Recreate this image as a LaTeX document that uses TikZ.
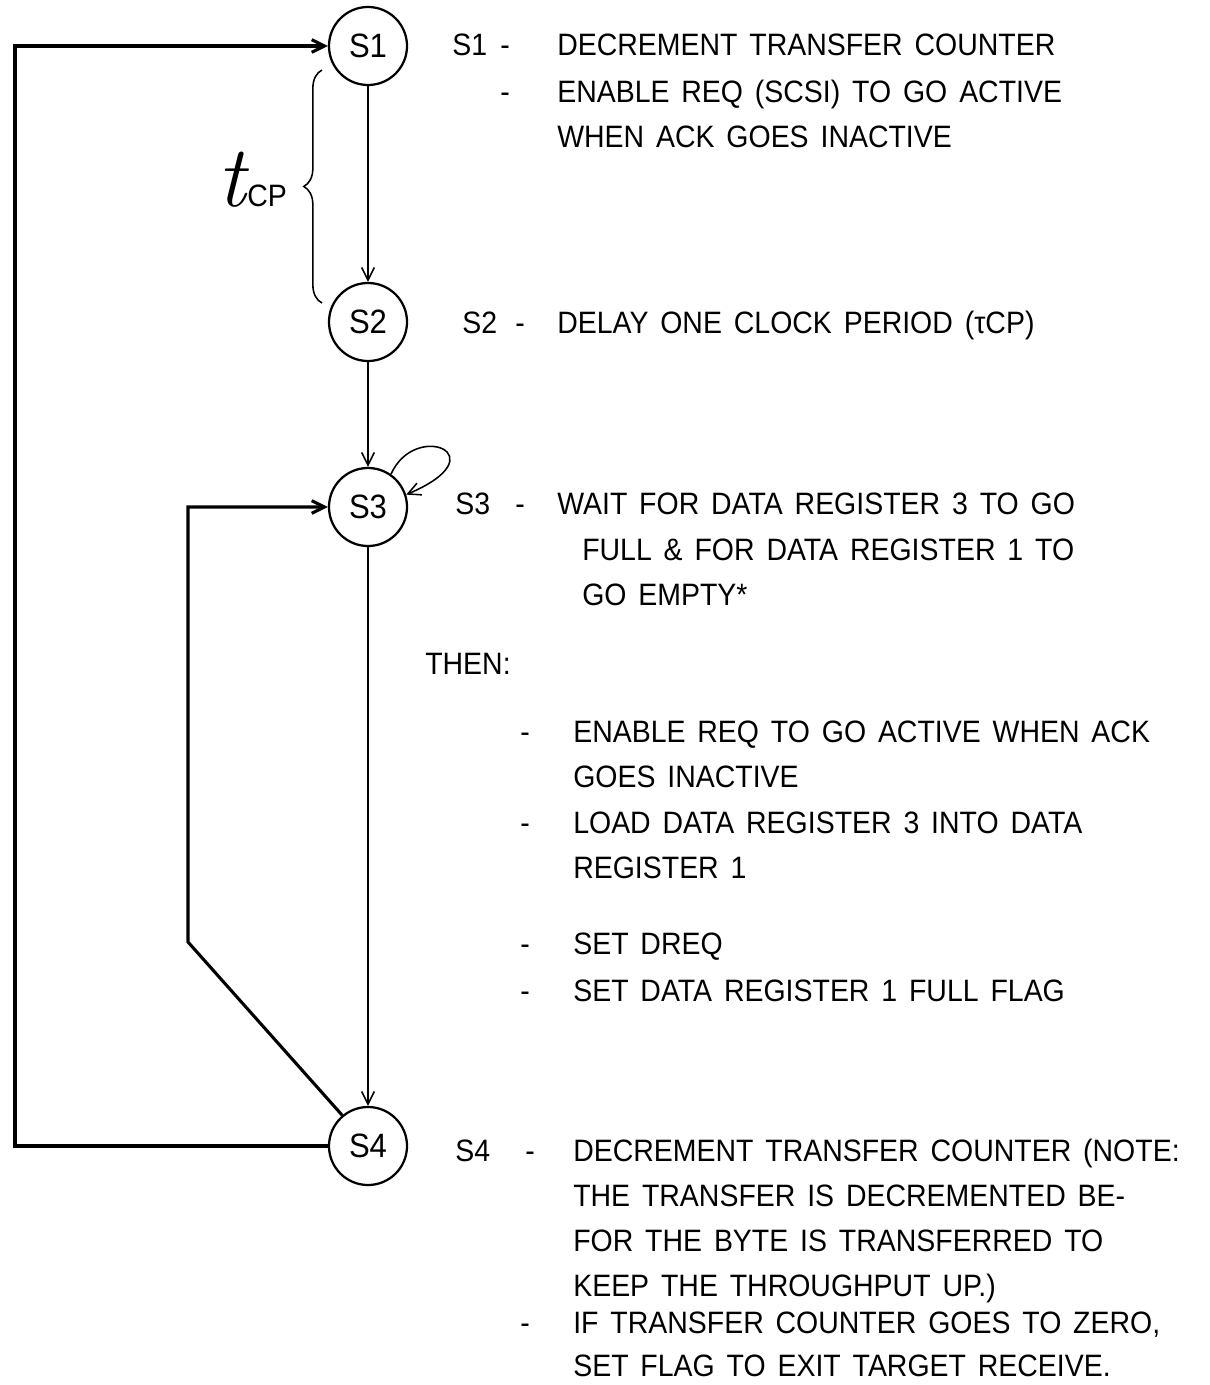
\documentclass[tikz,border=0pt]{standalone}
\usepackage{fontspec}
\usepackage{tikz}
\usetikzlibrary{arrows.meta,positioning,calc,decorations.pathreplacing}
\newfontfamily\plotter{Liberation Sans}[FakeStretch=0.92,WordSpace=1.5]

\begin{document}
\begin{tikzpicture}[
  x=0.025cm, y=0.025cm,
  >={Straight Barb[length=9pt,width=9pt]},
  st/.style={circle, draw, line width=1.6pt, minimum size=1.95cm, inner sep=0pt,
    font=\plotter\fontsize{24}{24}\selectfont},
  fine/.style={line width=1.1pt},
  heavy/.style={line width=2.2pt},
  txt/.style={anchor=base west, inner sep=0pt, font=\plotter\fontsize{22}{24}\selectfont}]
  \useasboundingbox (0,0) rectangle (1209,-1385);
  % states
  \node[st] (s1) at (368,-46) {S1};
  \node[st] (s2) at (368,-322) {S2};
  \node[st] (s3) at (368,-507) {S3};
  \node[st] (s4) at (368,-1146) {S4};
  \coordinate (lb) at (15,-1146);
  \coordinate (lt) at (15,-46);
  \coordinate (kink) at (188,-942);
  % transitions
  \draw[fine,->] (s1) -- (s2);
  \draw[fine,->] (s2) -- (s3);
  \draw[fine,->] (s3) -- (s4);
  \draw[fine,->] (s3.55) .. controls (415,-420) and (500,-455) .. (s3.18);
  \draw[heavy,->] (s4.west) -- (lb) -- (lt) -- (s1.west);
  \draw[heavy,->] (s4.130) -- (kink) |- (s3.west);
  % clock period brace
  \draw[fine, decorate, decoration={brace, amplitude=13pt}] (322,-303) -- (322,-70);
  \node[anchor=base east, inner sep=0pt, font=\fontsize{62}{62}\selectfont\itshape] (tt) at (246,-207) {t};
  \node[anchor=base west, inner sep=0pt, font=\plotter\fontsize{22}{24}\selectfont] (tcp) at (247,-207) {CP};
  % S1
  \node[txt] (l1) at (452,-56) {S1};
  \node[txt] (d1) at (500,-56) {-};
  \node[txt] (a1) at (557,-56) {DECREMENT TRANSFER COUNTER};
  \node[txt] (d2) at (500,-103) {-};
  \node[txt] (a2) at (557,-103) {ENABLE REQ (SCSI) TO GO ACTIVE};
  \node[txt] (a3) at (557,-148) {WHEN ACK GOES INACTIVE};
  % S2
  \node[txt] (l2) at (462,-333) {S2};
  \node[txt] (d3) at (515,-333) {-};
  \node[txt] (b1) at (557,-333) {DELAY ONE CLOCK PERIOD (τCP)};
  % S3
  \node[txt] (l3) at (455,-514) {S3};
  \node[txt] (d4) at (515,-514) {-};
  \node[txt] (c1) at (557,-514) {WAIT FOR DATA REGISTER 3 TO GO};
  \node[txt] (c2) at (582,-560) {FULL \& FOR DATA REGISTER 1 TO};
  \node[txt] (c3) at (582,-605) {GO EMPTY*};
  \node[txt] (then) at (425,-674) {THEN:};
  \node[txt] (d5) at (520,-742) {-};
  \node[txt] (c4) at (573,-742) {ENABLE REQ TO GO ACTIVE WHEN ACK};
  \node[txt] (c5) at (573,-787) {GOES INACTIVE};
  \node[txt] (d6) at (520,-833) {-};
  \node[txt] (c6) at (573,-833) {LOAD DATA REGISTER 3 INTO DATA};
  \node[txt] (c7) at (573,-878) {REGISTER 1};
  \node[txt] (d7) at (520,-954) {-};
  \node[txt] (c8) at (573,-954) {SET DREQ};
  \node[txt] (d8) at (520,-1001) {-};
  \node[txt] (c9) at (573,-1001) {SET DATA REGISTER 1 FULL FLAG};
  % S4
  \node[txt] (l4) at (455,-1161) {S4};
  \node[txt] (d9) at (525,-1161) {-};
  \node[txt] (e1) at (573,-1161) {DECREMENT TRANSFER COUNTER (NOTE:};
  \node[txt] (e2) at (573,-1206) {THE TRANSFER IS DECREMENTED BE-};
  \node[txt] (e3) at (573,-1251) {FOR THE BYTE IS TRANSFERRED TO};
  \node[txt] (e4) at (573,-1296) {KEEP THE THROUGHPUT UP.)};
  \node[txt] (d10) at (520,-1333) {-};
  \node[txt] (e5) at (573,-1333) {IF TRANSFER COUNTER GOES TO ZERO,};
  \node[txt] (e6) at (573,-1376) {SET FLAG TO EXIT TARGET RECEIVE.};
\end{tikzpicture}
\end{document}
